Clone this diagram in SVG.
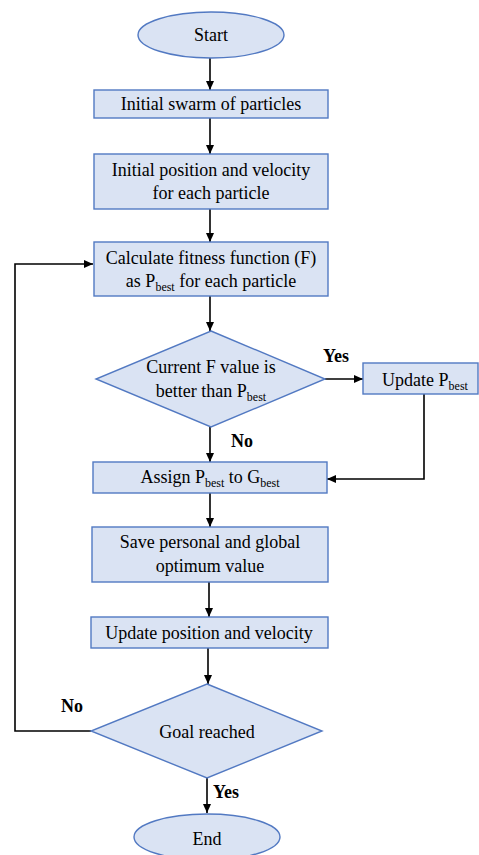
<svg xmlns="http://www.w3.org/2000/svg" width="479" height="855" viewBox="0 0 479 855">
  <style>
    .shape { fill: #dae3f3; stroke: #5279c2; stroke-width: 1.4; }
    .t { font-family: "Liberation Serif", "Times New Roman", serif; font-size: 18px; fill: #000; text-anchor: middle; }
    .sub { font-size: 12px; }
    .lbl { font-family: "Liberation Serif", "Times New Roman", serif; font-size: 18px; font-weight: bold; fill: #000; }
    .wire { fill: none; stroke: #000; stroke-width: 1.6; }
  </style>
  <defs>
    <marker id="arrow" markerUnits="userSpaceOnUse" markerWidth="10" markerHeight="10" viewBox="0 0 10 10" refX="9" refY="5" orient="auto">
      <path d="M0,1 L9,5 L0,9 Z" fill="#000"/>
    </marker>
  </defs>

  <!-- connectors -->
  <g id="connectors">
    <line class="wire" x1="210" y1="58" x2="210" y2="90" marker-end="url(#arrow)"/>
    <line class="wire" x1="210" y1="118" x2="210" y2="154" marker-end="url(#arrow)"/>
    <line class="wire" x1="210" y1="209" x2="210" y2="242" marker-end="url(#arrow)"/>
    <line class="wire" x1="210" y1="296" x2="210" y2="331" marker-end="url(#arrow)"/>
    <line class="wire" x1="210" y1="427" x2="210" y2="462" marker-end="url(#arrow)"/>
    <line class="wire" x1="325" y1="379" x2="363" y2="379" marker-end="url(#arrow)"/>
    <polyline class="wire" points="424,394 424,479 327,479" marker-end="url(#arrow)"/>
    <line class="wire" x1="210" y1="493" x2="210" y2="527" marker-end="url(#arrow)"/>
    <line class="wire" x1="209" y1="582" x2="209" y2="617" marker-end="url(#arrow)"/>
    <line class="wire" x1="208" y1="648" x2="208" y2="684" marker-end="url(#arrow)"/>
    <line class="wire" x1="207" y1="778" x2="207" y2="813" marker-end="url(#arrow)"/>
    <polyline class="wire" points="91,731 15,731 15,264 93,264" marker-end="url(#arrow)"/>
    <text class="lbl" x="323" y="362">Yes</text>
    <text class="lbl" x="231" y="447">No</text>
    <text class="lbl" x="61" y="712">No</text>
    <text class="lbl" x="213" y="798">Yes</text>
  </g>

  <g id="start">
    <ellipse class="shape" cx="211" cy="35" rx="73" ry="23"/>
    <text class="t" x="211" y="41">Start</text>
  </g>

  <g id="init-swarm">
    <rect class="shape" x="94" y="90" width="234" height="28"/>
    <text class="t" x="211" y="110">Initial swarm of particles</text>
  </g>

  <g id="init-pos-vel">
    <rect class="shape" x="94" y="154" width="234" height="55"/>
    <text class="t" x="211" y="176">Initial position and velocity</text>
    <text class="t" x="211" y="199">for each particle</text>
  </g>

  <g id="fitness">
    <rect class="shape" x="94" y="242" width="234" height="54"/>
    <text class="t" x="211" y="264">Calculate fitness function (F)</text>
    <text class="t" x="211" y="287">as P<tspan class="sub" dy="4">best</tspan><tspan dy="-4"> for each particle</tspan></text>
  </g>

  <g id="compare">
    <polygon class="shape" points="211,331 325,379 211,427 96,379"/>
    <text class="t" x="211" y="373">Current F value is</text>
    <text class="t" x="211" y="397">better than P<tspan class="sub" dy="4">best</tspan></text>
  </g>

  <g id="update-pbest">
    <rect class="shape" x="363" y="363" width="115" height="31"/>
    <text class="t" x="425" y="386">Update P<tspan class="sub" dy="4">best</tspan></text>
  </g>

  <g id="assign-gbest">
    <rect class="shape" x="93" y="462" width="234" height="31"/>
    <text class="t" x="210" y="483">Assign P<tspan class="sub" dy="4">best</tspan><tspan dy="-4"> to G</tspan><tspan class="sub" dy="4">best</tspan></text>
  </g>

  <g id="save-optimum">
    <rect class="shape" x="92" y="527" width="236" height="55"/>
    <text class="t" x="210" y="548">Save personal and global</text>
    <text class="t" x="210" y="572">optimum value</text>
  </g>

  <g id="update-pos-vel">
    <rect class="shape" x="91" y="617" width="237" height="31"/>
    <text class="t" x="209" y="639">Update position and velocity</text>
  </g>

  <g id="goal">
    <polygon class="shape" points="207,684 322,731 207,778 91,731"/>
    <text class="t" x="207" y="738">Goal reached</text>
  </g>

  <g id="end">
    <ellipse class="shape" cx="207" cy="837" rx="73" ry="23"/>
    <text class="t" x="207" y="845">End</text>
  </g>
</svg>
